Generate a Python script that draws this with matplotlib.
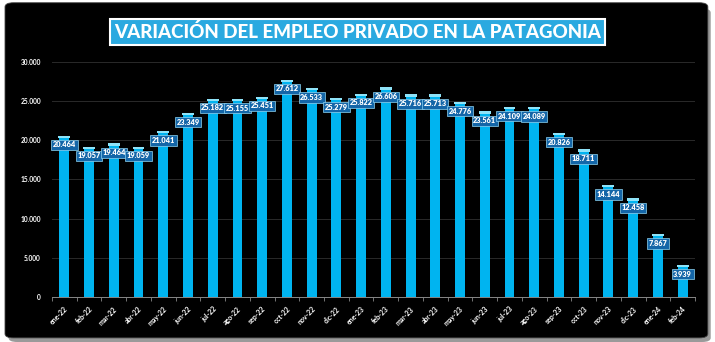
import matplotlib
matplotlib.use("Agg")
import matplotlib.pyplot as plt
from matplotlib.patches import FancyBboxPatch
from matplotlib.ticker import FixedLocator, FuncFormatter

# data
months = ["ene-22", "feb-22", "mar-22", "abr-22", "may-22", "jun-22", "jul-22",
          "ago-22", "sep-22", "oct-22", "nov-22", "dic-22", "ene-23", "feb-23",
          "mar-23", "abr-23", "may-23", "jun-23", "jul-23", "ago-23", "sep-23",
          "oct-23", "nov-23", "dic-23", "ene-24", "feb-24"]
empleo = [20464, 19057, 19464, 19059, 21041, 23349, 25182, 25155, 25451, 27612,
          26533, 25279, 25822, 26606, 25716, 25713, 24776, 23561, 24109, 24089,
          20826, 18711, 14144, 12458, 7867, 3939]
y_ticks = [0, 5000, 10000, 15000, 20000, 25000, 30000]
title = "VARIACIÓN DEL EMPLEO PRIVADO EN LA PATAGONIA"

plt.rcParams['font.family'] = ['Lato', 'DejaVu Sans']

def miles(v, pos=None):
    return f"{int(v):,}".replace(",", ".")

fig = plt.figure(figsize=(7.15, 3.42), dpi=100)
fig.patch.set_facecolor("white")

# shadow + black rounded panel
shadow = FancyBboxPatch((0.012, 0.0), 0.982, 0.975, boxstyle="round,pad=0,rounding_size=0.012",
                        transform=fig.transFigure, facecolor="#9a9a9a", edgecolor="none", zorder=0)
panel = FancyBboxPatch((0.007, 0.012), 0.983, 0.98, boxstyle="round,pad=0,rounding_size=0.012",
                       transform=fig.transFigure, facecolor="black", edgecolor="#444444",
                       linewidth=0.6, zorder=1)
fig.patches.extend([shadow, panel])

ax = fig.add_axes([0.0727, 0.1316, 0.8993, 0.6871])
ax.set_facecolor("none")
ax.set_zorder(2)

x = list(range(len(months)))
ax.bar(x, empleo, width=0.4, color="#00b4f0", zorder=3)
# thin light cap on top of each bar
ax.bar(x, [280] * len(x), bottom=[v - 140 for v in empleo], width=0.48,
       color="#8fe3f8", zorder=4)

for i, v in enumerate(empleo):
    ax.text(i, v - 1050, miles(v), ha="center", va="center", fontsize=5.3,
            color="white", fontweight="heavy", zorder=6,
            bbox=dict(boxstyle="square,pad=0.22", facecolor="#1466a8",
                      edgecolor="#8fd4f2", linewidth=0.5))

ax.set_xlim(-0.5, len(months) - 0.5)
ax.set_ylim(0, 30000)
ax.yaxis.set_major_locator(FixedLocator(y_ticks))
ax.yaxis.set_major_formatter(FuncFormatter(miles))
ax.grid(axis="y", color="#2a2a2a", linewidth=0.7, zorder=0)
ax.set_axisbelow(True)

ax.set_xticks(x)
ax.set_xticklabels(months, rotation=45, ha="right", rotation_mode="anchor")
ax.set_xticks([i - 0.5 for i in range(len(months) + 1)], minor=True)
ax.tick_params(axis="x", which="major", length=0, labelsize=5, labelcolor="white", pad=6)
ax.tick_params(axis="x", which="minor", length=3, color="#888888")
ax.tick_params(axis="y", length=0, labelsize=4.8, labelcolor="white", pad=8)
for lab in ax.get_xticklabels() + ax.get_yticklabels():
    lab.set_fontweight("bold")

for s in ["top", "right", "left"]:
    ax.spines[s].set_visible(False)
ax.spines["bottom"].set_color("#888888")
ax.spines["bottom"].set_linewidth(0.7)

fig.text(0.5, 0.907, title, ha="center", va="center", fontsize=13.5,
         color="white", fontweight="black", zorder=5,
         bbox=dict(boxstyle="square,pad=0.2", facecolor="#2aa9e0",
                   edgecolor="white", linewidth=1.5))

fig.savefig("out.png", dpi=100, facecolor="white")
